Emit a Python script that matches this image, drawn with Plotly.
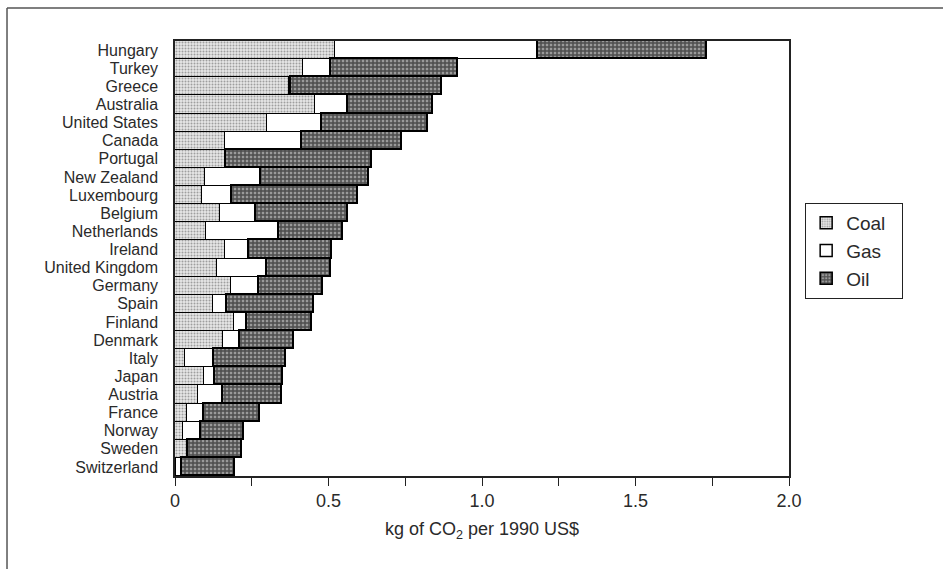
import plotly.graph_objects as go

countries = ["Hungary", "Turkey", "Greece", "Australia", "United States", "Canada",
             "Portugal", "New Zealand", "Luxembourg", "Belgium", "Netherlands",
             "Ireland", "United Kingdom", "Germany", "Spain", "Finland", "Denmark",
             "Italy", "Japan", "Austria", "France", "Norway", "Sweden", "Switzerland"]

coal = [0.521, 0.416, 0.372, 0.457, 0.301, 0.164, 0.165, 0.098, 0.087, 0.148, 0.101,
        0.162, 0.138, 0.184, 0.125, 0.191, 0.155, 0.034, 0.096, 0.074, 0.040, 0.025,
        0.038, 0.002]
gas = [0.662, 0.092, 0.005, 0.108, 0.177, 0.251, 0.002, 0.182, 0.099, 0.117, 0.239,
       0.080, 0.161, 0.090, 0.044, 0.045, 0.057, 0.092, 0.034, 0.081, 0.053, 0.060,
       0.004, 0.022]
oil = [0.549, 0.415, 0.492, 0.274, 0.347, 0.324, 0.476, 0.351, 0.411, 0.300, 0.208,
       0.270, 0.208, 0.209, 0.284, 0.211, 0.177, 0.234, 0.221, 0.195, 0.185, 0.141,
       0.176, 0.170]

x_tickvals = [0, 0.5, 1.0, 1.5, 2.0]
x_ticktext = ["0", "0.5", "1.0", "1.5", "2.0"]

FONT = "Liberation Sans"
TXT = "#2a2a2a"

fig = go.Figure()
fig.add_trace(go.Bar(
    y=countries, x=coal, orientation="h", name="Coal  ", legendgroup="c",
    marker=dict(color="white", line=dict(color="black", width=1.5),
                pattern=dict(shape=".", fgcolor="#555555", bgcolor="#e6e6e6",
                             size=3, solidity=0.35)),
))
fig.add_trace(go.Bar(
    y=countries, x=gas, orientation="h", name="Gas", legendgroup="g",
    marker=dict(color="white", line=dict(color="black", width=1.5)),
))
fig.add_trace(go.Bar(
    y=countries, x=oil, orientation="h", name="Oil", legendgroup="o",
    marker=dict(color="white", line=dict(color="black", width=1.6),
                pattern=dict(shape="+", fgcolor="#000000", bgcolor="#9a9a9a",
                             size=4, solidity=0.6)),
))

fig.update_layout(
    width=943, height=569,
    barmode="stack", bargap=0,
    paper_bgcolor="white", plot_bgcolor="white",
    margin=dict(l=175, r=154, t=41, b=93),
    font=dict(family=FONT, color=TXT, size=16),
    legend=dict(x=1.026, y=0.628, xanchor="left", yanchor="top",
                traceorder="normal", bordercolor="#222", borderwidth=1.2,
                font=dict(size=19, family=FONT, color=TXT),
                bgcolor="white", tracegroupgap=20),
    xaxis=dict(range=[0, 2.0], tickmode="array", tickvals=x_tickvals,
               ticktext=x_ticktext,
               showline=True, linecolor="#222", linewidth=1.5, mirror=True,
               ticks="outside", ticklen=8, tickcolor="#222", tickwidth=1.2,
               minor=dict(dtick=0.25, ticks="outside", ticklen=8, tickcolor="#222"),
               showgrid=False, zeroline=False,
               tickfont=dict(size=18),
               title=dict(text="kg of CO<sub>2</sub> per 1990 US$",
                          font=dict(size=18), standoff=12)),
    yaxis=dict(autorange="reversed", tickmode="array", tickvals=countries,
               showline=True, linecolor="#222",
               linewidth=1.5, mirror=True, ticks="", showgrid=False,
               tickfont=dict(size=16), ticklabelstandoff=12),
)

# outer frame (left and top edges visible)
fig.add_shape(type="line", xref="paper", yref="paper",
              x0=-0.2736, x1=1.5, y0=1.0759, y1=1.0759,
              line=dict(color="#555", width=1.5))
fig.add_shape(type="line", xref="paper", yref="paper",
              x0=-0.2736, x1=-0.2736, y0=1.0759, y1=-0.5,
              line=dict(color="#555", width=1.5))

fig.write_html("out.html")
